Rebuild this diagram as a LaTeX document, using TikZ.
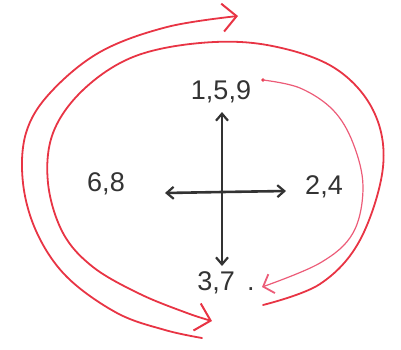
\documentclass[tikz,border=0pt]{standalone}
\usepackage{fontspec}
\setmainfont{Liberation Sans}
\usetikzlibrary{arrows.meta, calc}

\begin{document}
\begin{tikzpicture}[x=1pt, y=-1pt, font=\fontsize{27}{30}\selectfont, line cap=round, line join=round]
\tikzset{lbl/.style={inner sep=0, text=black!80}, axis/.style={draw=black!80, line width=2.6pt, -{Straight Barb[length=7pt, width=12pt, line width=2.2pt]}}, loop/.style={draw=penred, line width=1.8pt}, thin loop/.style={draw=penpink, line width=1.2pt}, chev/.style={-{Straight Barb[length=14pt, width=28pt, line width=2pt]}}}
\definecolor{penred}{RGB}{232,52,68}
\definecolor{penpink}{RGB}{236,92,120}
\useasboundingbox (0,0) rectangle (401,349);
\node[lbl] (n159) at (221,92) {1,5,9};
\node[lbl] (n68) at (106,184) {6,8};
\node[lbl] (n24) at (324,187) {2,4};
\node[lbl] (n37) at (226,283) {3,7\hspace{0.45em}.};
\coordinate (c) at (222,192);
\coordinate (up) at (222,112); \coordinate (dn) at (222,266);
\coordinate (lt) at (165,193); \coordinate (rt) at (286,191);
\draw[axis] (c) -- (up); \draw[axis] (c) -- (dn);
\draw[axis] (c) -- (lt); \draw[axis] (c) -- (rt);
% outer loop, back up to the top
\draw[loop, chev] plot[smooth, tension=0.6] coordinates {(202,338) (165,330) (117,313) (67,277) (37,233) (23,183) (26,133) (50,93) (100,52) (167,27) (238,16)};
% inner loop, down to 3,7
\draw[loop, chev] plot[smooth, tension=0.6] coordinates {(263,305) (320,284) (360,240) (383,167) (373,110) (333,67) (267,45) (200,43) (133,57) (83,90) (53,133) (48,183) (63,233) (93,267) (140,294) (187,313) (212,321)};
% 1,5,9 to 3,7
\fill[penred] (263,80) circle (1.8pt);
\draw[thin loop, -{Straight Barb[length=9pt, width=20pt, line width=1.8pt]}] plot[smooth, tension=0.6] coordinates {(263,80) (300,88) (333,110) (353,143) (363,187) (353,233) (320,263) (262,287)};
\end{tikzpicture}
\end{document}
